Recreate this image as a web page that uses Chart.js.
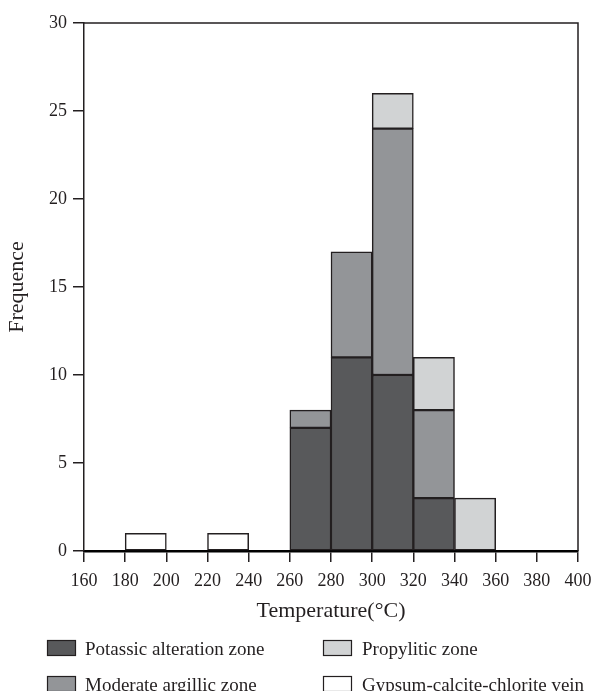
<!DOCTYPE html>
<html>
<head>
<meta charset="utf-8">
<script src="https://cdn.jsdelivr.net/npm/chart.js@4/dist/chart.umd.min.js"></script>
<style>
  html, body { margin: 0; padding: 0; background: #ffffff; }
  #wrap { width: 614px; height: 691px; position: relative; }
</style>
</head>
<body>
<div id="wrap"><canvas id="c" width="614" height="691"></canvas></div>
<script>
// ---- data ----
const binLabels = ['160-180','180-200','200-220','220-240','240-260','260-280','280-300','300-320','320-340','340-360','360-380','380-400'];
const potassic   = [0, 0, 0, 0, 0, 7, 11, 10, 3, 0, 0, 0];
const moderate   = [0, 0, 0, 0, 0, 1, 6, 14, 5, 0, 0, 0];
const propylitic = [0, 0, 0, 0, 0, 0, 0, 2, 3, 3, 0, 0];
const gypsum     = [0, 1, 0, 1, 0, 0, 0, 0, 0, 0, 0, 0];
const seriesNames = ['Potassic alteration zone', 'Moderate argillic zone', 'Propylitic zone', 'Gypsum-calcite-chlorite vein'];
const xMin = 160, xMax = 400, xStep = 20;
const yMin = 0, yMax = 30, yStep = 5;
const xTitle = 'Temperature(°C)';
const yTitle = 'Frequence';

const colors = ['#58595b', '#939598', '#d1d3d4', '#ffffff'];
const edge = '#231f20';
const FONT = "'Liberation Serif', 'Times New Roman', serif";

Chart.defaults.font.family = FONT;
Chart.defaults.color = edge;

const nz = a => a.map(v => v === 0 ? null : v);
const series = [potassic, moderate, propylitic, gypsum];

const spacingPlugin = {
  id: 'spacing',
  beforeInit(chart) { try { chart.ctx.letterSpacing = '1px'; } catch (e) {} }
};

const framePlugin = {
  id: 'frame',
  afterDraw(chart) {
    const {ctx, chartArea: a} = chart;
    ctx.save();
    ctx.strokeStyle = edge;
    ctx.lineWidth = 1.5;
    ctx.beginPath();
    ctx.moveTo(a.left, a.top);
    ctx.lineTo(a.right, a.top);
    ctx.lineTo(a.right, a.bottom);
    ctx.stroke();
    // legend
    const items = [
      {x: 47, y: 640, tx: 85},
      {x: 47, y: 676, tx: 85},
      {x: 323, y: 640, tx: 362},
      {x: 323, y: 676, tx: 362}
    ];
    ctx.font = '19px ' + FONT;
    ctx.textBaseline = 'alphabetic';
    ctx.textAlign = 'left';
    [0, 1, 2, 3].forEach((si, i) => {
      const it = items[i];
      ctx.fillStyle = colors[si];
      ctx.fillRect(it.x, it.y, 29, 16);
      ctx.lineWidth = 1.2;
      ctx.strokeStyle = edge;
      ctx.strokeRect(it.x + 0.5, it.y + 0.5, 28, 15);
      ctx.fillStyle = edge;
      ctx.fillText(seriesNames[si], it.tx, it.y + 15);
    });
    ctx.restore();
  }
};

new Chart(document.getElementById('c'), {
  type: 'bar',
  data: {
    labels: binLabels,
    datasets: series.map((s, i) => ({
      label: seriesNames[i],
      data: nz(s),
      backgroundColor: colors[i],
      borderColor: edge,
      borderWidth: 1.5,
      borderSkipped: false,
      barPercentage: 1,
      categoryPercentage: 1,
      xAxisID: 'x'
    }))
  },
  options: {
    responsive: false,
    animation: false,
    events: [],
    layout: { padding: { left: 0, right: 36, top: 23, bottom: 61 } },
    plugins: { legend: { display: false }, tooltip: { enabled: false } },
    scales: {
      x: { type: 'category', stacked: true, display: false },
      x2: {
        type: 'linear', position: 'bottom', min: xMin, max: xMax, offset: false,
        ticks: { stepSize: xStep, font: { size: 18 }, padding: 8, color: edge, maxRotation: 0, autoSkip: false },
        grid: { offset: false, drawOnChartArea: false, drawTicks: true, tickLength: 11, color: edge, lineWidth: 1.5 },
        border: { display: true, color: '#000000', width: 2.5 },
        title: { display: true, text: xTitle, font: { size: 22 }, color: edge, padding: { top: 0, bottom: 6 } },
        afterFit(scale) { scale.height = 79; }
      },
      y: {
        stacked: true, min: yMin, max: yMax,
        ticks: { stepSize: yStep, font: { size: 18 }, padding: 6, color: edge },
        grid: { drawOnChartArea: false, drawTicks: true, tickLength: 11, color: edge, lineWidth: 1.5 },
        border: { display: true, color: edge, width: 1.5 },
        title: { display: true, text: yTitle, font: { size: 22 }, color: edge, padding: { top: 4, bottom: 0 } },
        afterFit(scale) { scale.width = 84; }
      }
    }
  },
  plugins: [spacingPlugin, framePlugin]
});
</script>
</body>
</html>
